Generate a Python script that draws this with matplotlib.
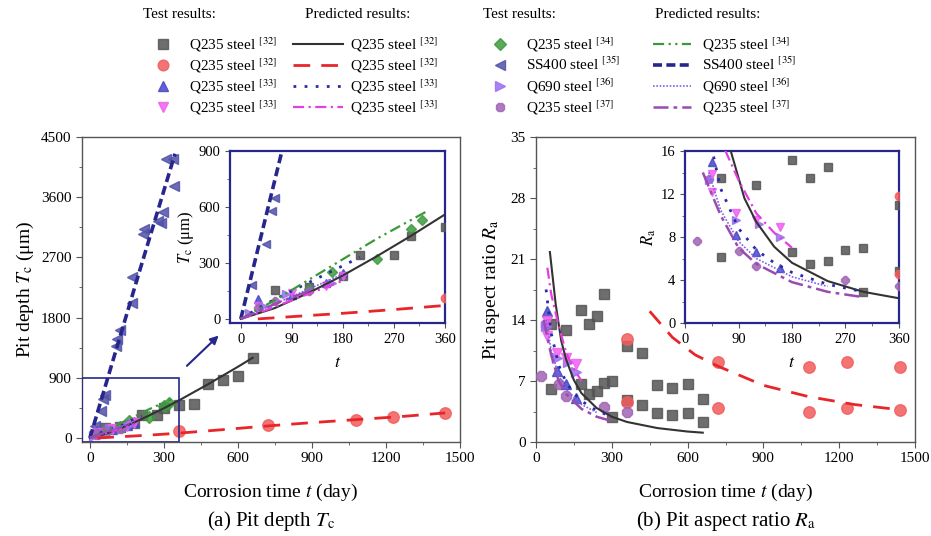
import matplotlib.pyplot as plt
from matplotlib.lines import Line2D
from matplotlib.patches import Rectangle
from matplotlib.ticker import MultipleLocator

plt.rcParams['font.family'] = ['Liberation Serif', 'DejaVu Serif']
plt.rcParams['mathtext.fontset'] = 'stix'

# ---------------- pit depth Tc (um) vs corrosion time t (day) ----------------
# test results
t_sq32 = [60, 120, 180, 210, 270, 300, 360, 420, 480, 540, 600, 660]
tc_sq32 = [155, 170, 230, 340, 345, 445, 490, 515, 810, 870, 920, 1200]
t_ci32 = [360, 720, 1080, 1230, 1440]
tc_ci32 = [110, 190, 270, 315, 370]
t_up33 = [30, 90, 150, 180]
tc_up33 = [105, 130, 190, 245]
t_dn33 = [30, 90, 150, 180]
tc_dn33 = [70, 140, 175, 230]
t_di34 = [120, 160, 240, 300, 320]
tc_di34 = [160, 250, 320, 480, 530]
t_lt35 = [20, 45, 55, 60, 105, 110, 120, 170, 170, 215, 220, 275, 290, 295, 310, 335, 340]
tc_lt35 = [180, 400, 580, 650, 1370, 1480, 1620, 2020, 2400, 3050, 3120, 3240, 3220, 3375, 4170, 4170, 3770]
t_ri36 = [15, 40, 80, 160]
tc_ri36 = [30, 70, 135, 190]
t_oc37 = [30, 60, 120]
tc_oc37 = [60, 95, 150]

# predicted results
tp_32a = [0, 60, 120, 180, 240, 300, 360, 480, 600, 660]
tcp_32a = [0, 58, 140, 233, 336, 445, 560, 806, 1065, 1200]
tp_32b = [30, 90, 180, 270, 360, 540, 720, 900, 1080, 1260, 1440]
tcp_32b = [0, 12, 30, 50, 72, 125, 180, 230, 275, 320, 375]
tp_33a = [0, 30, 60, 90, 120, 150, 180, 210]
tcp_33a = [0, 55, 105, 150, 195, 240, 285, 330]
tp_33b = [0, 30, 60, 90, 120, 150, 180]
tcp_33b = [0, 30, 65, 100, 135, 170, 205]
tp_34 = [0, 60, 120, 180, 240, 300, 330]
tcp_34 = [0, 100, 210, 320, 430, 530, 580]
tp_35 = [0, 50, 100, 150, 200, 250, 300, 345]
tcp_35 = [0, 620, 1240, 1860, 2480, 3090, 3700, 4250]
tp_36 = [0, 45, 90, 135, 180]
tcp_36 = [0, 60, 120, 180, 240]
tp_37 = [0, 30, 60, 90, 120]
tcp_37 = [0, 40, 80, 115, 150]

# ---------------- pit aspect ratio Ra vs corrosion time t (day) ----------------
# test results
ta_sq32 = [60, 60, 120, 180, 180, 210, 210, 240, 240, 270, 270, 300, 300,
           360, 360, 420, 420, 480, 480, 540, 540, 600, 600, 660, 660]
ra_sq32 = [13.5, 6.1, 12.8, 15.2, 6.6, 13.5, 5.5, 14.5, 5.8, 17.0, 6.8, 7.0, 2.9,
           11.0, 4.8, 10.2, 4.3, 6.5, 3.3, 6.2, 3.1, 6.6, 3.3, 4.9, 2.3]
ta_ci32 = [360, 360, 720, 720, 1080, 1080, 1230, 1230, 1440, 1440]
ra_ci32 = [11.8, 4.6, 9.2, 3.9, 8.6, 3.5, 9.2, 3.9, 8.6, 3.7]
ta_up33 = [45, 85, 120, 160]
ra_up33 = [15.0, 8.2, 6.6, 5.1]
ta_dn33 = [45, 45, 85, 120, 160]
ra_dn33 = [13.9, 12.2, 10.2, 9.6, 8.9]
ta_ri36 = [40, 85, 125, 160]
ra_ri36 = [13.3, 9.6, 9.2, 8.0]
ta_oc37 = [20, 40, 90, 120, 270, 360]
ra_oc37 = [7.6, 13.4, 6.7, 5.3, 4.0, 3.4]

# predicted results
tap_32a = [55, 78, 100, 120, 150, 180, 240, 300, 360, 480, 600, 660]
rap_32a = [21.8, 15.8, 11.6, 9.4, 7.1, 5.6, 3.9, 2.9, 2.3, 1.6, 1.2, 1.07]
tap_32b = [450, 540, 630, 720, 900, 1080, 1260, 1440]
rap_32b = [15.0, 12.0, 10.0, 8.7, 6.5, 5.2, 4.3, 3.7]
tap_33a = [40, 60, 90, 120, 150, 180, 240, 300]
rap_33a = [17.5, 12.5, 8.8, 6.8, 5.6, 4.7, 3.6, 2.9]
tap_33b = [45, 60, 90, 120, 150, 180]
rap_33b = [20.0, 17.0, 13.3, 10.2, 8.4, 7.0]
tap_36 = [40, 60, 90, 120, 180, 240]
rap_36 = [14.0, 10.5, 7.6, 6.0, 4.3, 3.4]
tap_37 = [30, 60, 90, 120, 180, 240, 300]
rap_37 = [14.0, 10.0, 7.0, 5.5, 3.8, 2.9, 2.4]

labels_l = [r'Q235 steel $^{[32]}$', r'Q235 steel $^{[32]}$',
            r'Q235 steel $^{[33]}$', r'Q235 steel $^{[33]}$']
labels_r = [r'Q235 steel $^{[34]}$', r'SS400 steel $^{[35]}$',
            r'Q690 steel $^{[36]}$', r'Q235 steel $^{[37]}$']

# marker styles: (marker, colour, relative size)
mk = {
    'sq32': ('s', '#555555', 1.0),
    'ci32': ('o', '#f25c5c', 1.1),
    'up33': ('^', '#4646c8', 1.05),
    'dn33': ('v', '#f060f0', 1.05),
    'di34': ('D', '#3f9a3f', 0.85),
    'lt35': ('<', '#5252a8', 1.05),
    'ri36': ('>', '#9b6ff0', 1.05),
    'oc37': ('8', '#a064b4', 1.0),
}
# line styles: (colour, dashes, width)
ln = {
    '32a': ('#333333', None, 1.5),
    '32b': ('#e8262a', (6, 4), 2.0),
    '33a': ('#2a2aa8', (1, 3), 2.0),
    '33b': ('#e040e0', (5, 2, 1, 2), 1.6),
    '34': ('#3a9a3a', (5, 2, 1, 2, 1, 2), 1.6),
    '35': ('#26268c', (2.5, 1.2), 2.6),
    '36': ('#8060e8', (1, 1), 1.2),
    '37': ('#9a4ab0', (6, 2, 1.5, 2), 1.8),
}
navy = '#26268c'


def scatter(ax, key, x, y, ms):
    m, c, s = mk[key]
    ax.plot(x, y, ls='none', marker=m, ms=ms * s, mfc=c, mec=c, alpha=0.85, zorder=3)


def curve(ax, key, x, y):
    c, d, w = ln[key]
    line, = ax.plot(x, y, color=c, lw=w, zorder=4)
    if d:
        line.set_dashes(d)


def depth_series(ax, ms):
    curve(ax, '35', tp_35, tcp_35)
    curve(ax, '32a', tp_32a, tcp_32a)
    curve(ax, '32b', tp_32b, tcp_32b)
    curve(ax, '33a', tp_33a, tcp_33a)
    curve(ax, '33b', tp_33b, tcp_33b)
    curve(ax, '34', tp_34, tcp_34)
    curve(ax, '36', tp_36, tcp_36)
    curve(ax, '37', tp_37, tcp_37)
    scatter(ax, 'sq32', t_sq32, tc_sq32, ms)
    scatter(ax, 'ci32', t_ci32, tc_ci32, ms)
    scatter(ax, 'di34', t_di34, tc_di34, ms)
    scatter(ax, 'lt35', t_lt35, tc_lt35, ms)
    scatter(ax, 'up33', t_up33, tc_up33, ms)
    scatter(ax, 'dn33', t_dn33, tc_dn33, ms)
    scatter(ax, 'ri36', t_ri36, tc_ri36, ms)
    scatter(ax, 'oc37', t_oc37, tc_oc37, ms)


def ratio_series(ax, ms):
    scatter(ax, 'sq32', ta_sq32, ra_sq32, ms)
    scatter(ax, 'ci32', ta_ci32, ra_ci32, ms)
    scatter(ax, 'oc37', ta_oc37, ra_oc37, ms)
    scatter(ax, 'ri36', ta_ri36, ra_ri36, ms)
    scatter(ax, 'up33', ta_up33, ra_up33, ms)
    scatter(ax, 'dn33', ta_dn33, ra_dn33, ms)
    curve(ax, '32a', tap_32a, rap_32a)
    curve(ax, '32b', tap_32b, rap_32b)
    curve(ax, '33a', tap_33a, rap_33a)
    curve(ax, '33b', tap_33b, rap_33b)
    curve(ax, '36', tap_36, rap_36)
    curve(ax, '37', tap_37, rap_37)


def style_main(ax):
    for s in ax.spines.values():
        s.set_color('#555555')
        s.set_linewidth(1.0)
    ax.tick_params(which='both', direction='out', labelsize=11, color='#555555')
    ax.tick_params(which='major', length=4)
    ax.tick_params(which='minor', length=2)


def style_inset(ax):
    for s in ax.spines.values():
        s.set_color(navy)
        s.set_linewidth(1.6)
    ax.tick_params(which='both', direction='out', labelsize=10.5, color='#555555')
    ax.tick_params(which='major', length=3.5)
    ax.tick_params(which='minor', length=2)


fig = plt.figure(figsize=(9.31, 5.36), dpi=100)

# ---------------- (a) pit depth ----------------
ax1 = fig.add_axes([82 / 931, 94 / 536, 378 / 931, 305 / 536])
depth_series(ax1, 7.5)
ax1.set_xlim(-32, 1500)
ax1.set_ylim(-60, 4500)
ax1.xaxis.set_major_locator(MultipleLocator(300))
ax1.xaxis.set_minor_locator(MultipleLocator(150))
ax1.yaxis.set_major_locator(MultipleLocator(900))
ax1.yaxis.set_minor_locator(MultipleLocator(450))
style_main(ax1)
ax1.set_xlabel('Corrosion time $t$ (day)', fontsize=14, labelpad=12)
ax1.set_ylabel('Pit depth $T_\\mathrm{c}$ (μm)', fontsize=14, labelpad=4)
ax1.text(0.5, -0.26, '(a) Pit depth $T_\\mathrm{c}$', transform=ax1.transAxes,
         ha='center', va='center', fontsize=15)
ax1.add_patch(Rectangle((-32, -60), 392, 960, fill=False, ec=navy, lw=1.2, zorder=5))
ax1.annotate('', xy=(530, 1560), xytext=(385, 1050),
             arrowprops=dict(arrowstyle='-|>', color=navy, lw=1.5, mutation_scale=12))

ins1 = fig.add_axes([230 / 931, 213 / 536, 215 / 931, 172 / 536])
depth_series(ins1, 5.5)
ins1.set_xlim(-19, 360)
ins1.set_ylim(-22, 900)
ins1.xaxis.set_major_locator(MultipleLocator(90))
ins1.xaxis.set_minor_locator(MultipleLocator(45))
ins1.yaxis.set_major_locator(MultipleLocator(300))
ins1.yaxis.set_minor_locator(MultipleLocator(150))
style_inset(ins1)
ins1.set_xlabel('$t$', fontsize=13, labelpad=6)
ins1.set_ylabel('$T_\\mathrm{c}$ (μm)', fontsize=12, labelpad=2)

# ---------------- (b) pit aspect ratio ----------------
ax2 = fig.add_axes([536 / 931, 94 / 536, 379 / 931, 305 / 536])
ratio_series(ax2, 7.5)
ax2.set_xlim(0, 1500)
ax2.set_ylim(0, 35)
ax2.xaxis.set_major_locator(MultipleLocator(300))
ax2.xaxis.set_minor_locator(MultipleLocator(150))
ax2.yaxis.set_major_locator(MultipleLocator(7))
ax2.yaxis.set_minor_locator(MultipleLocator(3.5))
style_main(ax2)
ax2.set_xlabel('Corrosion time $t$ (day)', fontsize=14, labelpad=12)
ax2.set_ylabel('Pit aspect ratio $R_\\mathrm{a}$', fontsize=14, labelpad=6)
ax2.text(0.5, -0.26, '(b) Pit aspect ratio $R_\\mathrm{a}$', transform=ax2.transAxes,
         ha='center', va='center', fontsize=15)

ins2 = fig.add_axes([685 / 931, 213 / 536, 214 / 931, 172 / 536])
ratio_series(ins2, 5.5)
ins2.set_xlim(0, 360)
ins2.set_ylim(0, 16)
ins2.xaxis.set_major_locator(MultipleLocator(90))
ins2.xaxis.set_minor_locator(MultipleLocator(45))
ins2.yaxis.set_major_locator(MultipleLocator(4))
ins2.yaxis.set_minor_locator(MultipleLocator(2))
style_inset(ins2)
ins2.set_xlabel('$t$', fontsize=13, labelpad=6)
ins2.set_ylabel('$R_\\mathrm{a}$', fontsize=12, labelpad=2)

# ---------------- legend block ----------------
def mk_handle(key):
    m, c, s = mk[key]
    return Line2D([], [], ls='none', marker=m, ms=7 * s, mfc=c, mec=c, alpha=0.85)


def ln_handle(key):
    c, d, w = ln[key]
    h = Line2D([], [], color=c, lw=w)
    if d:
        h.set_dashes(d)
    return h


leg_kw = dict(frameon=False, fontsize=11, loc='upper left', borderpad=0,
              labelspacing=0.17, borderaxespad=0)
cols = [
    ([mk_handle(k) for k in ['sq32', 'ci32', 'up33', 'dn33']], labels_l, 155, 1.0, 1.2),
    ([ln_handle(k) for k in ['32a', '32b', '33a', '33b']], labels_l, 293, 3.3, 0.4),
    ([mk_handle(k) for k in ['di34', 'lt35', 'ri36', 'oc37']], labels_r, 492, 1.0, 1.2),
    ([ln_handle(k) for k in ['34', '35', '36', '37']], labels_r, 653, 2.5, 0.7),
]
for handles, labels, x0, hl, pad in cols:
    fig.legend(handles, labels, bbox_to_anchor=(x0 / 931, 1 - 35 / 536),
               handlelength=hl, handletextpad=pad, **leg_kw)

for x0, txt in [(143, 'Test results:'), (305, 'Predicted results:'),
                (483, 'Test results:'), (655, 'Predicted results:')]:
    fig.text(x0 / 931, 1 - 15 / 536, txt, fontsize=11, va='center', ha='left')

fig.savefig('out.png', dpi=100)
